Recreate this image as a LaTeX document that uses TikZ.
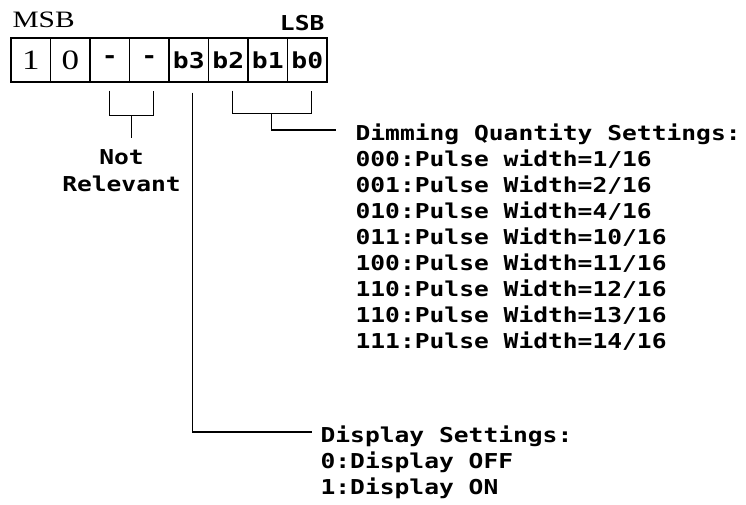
\documentclass[tikz,border=0pt]{standalone}
\usepackage{fontspec}
\setmonofont{DejaVu Sans Mono}[FakeStretch=1.2]
\newfontfamily\stretchserif[FakeStretch=1.25]{Liberation Serif}
\usetikzlibrary{positioning,calc}

\newcommand{\serifbit}[1]{{\stretchserif\mdseries\fontsize{28}{28}\selectfont #1}}

\begin{document}
\begin{tikzpicture}[
x=1pt, y=-1pt, line width=1.2pt,
bit-cell/.style = {draw, minimum width=39.5pt, minimum height=44pt, inner sep=0pt,
  font=\ttfamily\bfseries\fontsize{22}{22}\selectfont},
note-text/.style = {inner sep=0pt, align=left,
  font=\ttfamily\bfseries\fontsize{20.5}{26}\selectfont}
]
\useasboundingbox (0,0) rectangle (746,504);

% register cells
\foreach \t [count=\i] in {\serifbit{1},\serifbit{0},-,-,b3,b2,b1,b0}
  \node [bit-cell] (c\i) at ({11+39.5*(\i-0.5)},60) {\t};

% ends
\node [anchor=base west, inner sep=0pt, font=\stretchserif\fontsize{23.5}{23.5}\selectfont] (msb) at (12,27) {MSB};
\node [anchor=base east, inner sep=0pt, font=\ttfamily\bfseries\fontsize{20.5}{20.5}\selectfont] (lsb) at (325,30) {LSB};

% labels
\node [note-text, align=center, anchor=north, font=\ttfamily\bfseries\fontsize{20.5}{27}\selectfont] (notrel) at (121.5,149) {Not\\Relevant};
\node [note-text, anchor=north west] (dimming) at (355,123) {Dimming Quantity Settings:\\
000:Pulse width=1/16\\
001:Pulse Width=2/16\\
010:Pulse Width=4/16\\
011:Pulse Width=10/16\\
100:Pulse Width=11/16\\
110:Pulse Width=12/16\\
110:Pulse Width=13/16\\
111:Pulse Width=14/16};
\node [note-text, anchor=north west] (display) at (320,425) {Display Settings:\\
0:Display OFF\\
1:Display ON};

\coordinate (nr-stem) at ($(c3.south)!0.5!(c4.south)+(2,33)$);
\coordinate (dim-stem) at ($(c6.south)!0.5!(c8.south)+(4,31)$);
\coordinate (dim-end) at ($(dimming.north west)+(-19,7)$);
\coordinate (disp-end) at ($(display.north west)+(-8,7)$);

% brackets
\draw ($(c3.south)+(0,8)$) |- ($(c4.south)+(4,33)$) -- ($(c4.south)+(4,8)$);
\draw (nr-stem) -- ++(0,22);
\draw ($(c6.south)+(4,8)$) |- ($(c8.south)+(4,31)$) -- ($(c8.south)+(4,8)$);
\draw (dim-stem) |- (dim-end);
\draw ($(c5.south)+(4,10)$) |- (disp-end);

\end{tikzpicture}
\end{document}
